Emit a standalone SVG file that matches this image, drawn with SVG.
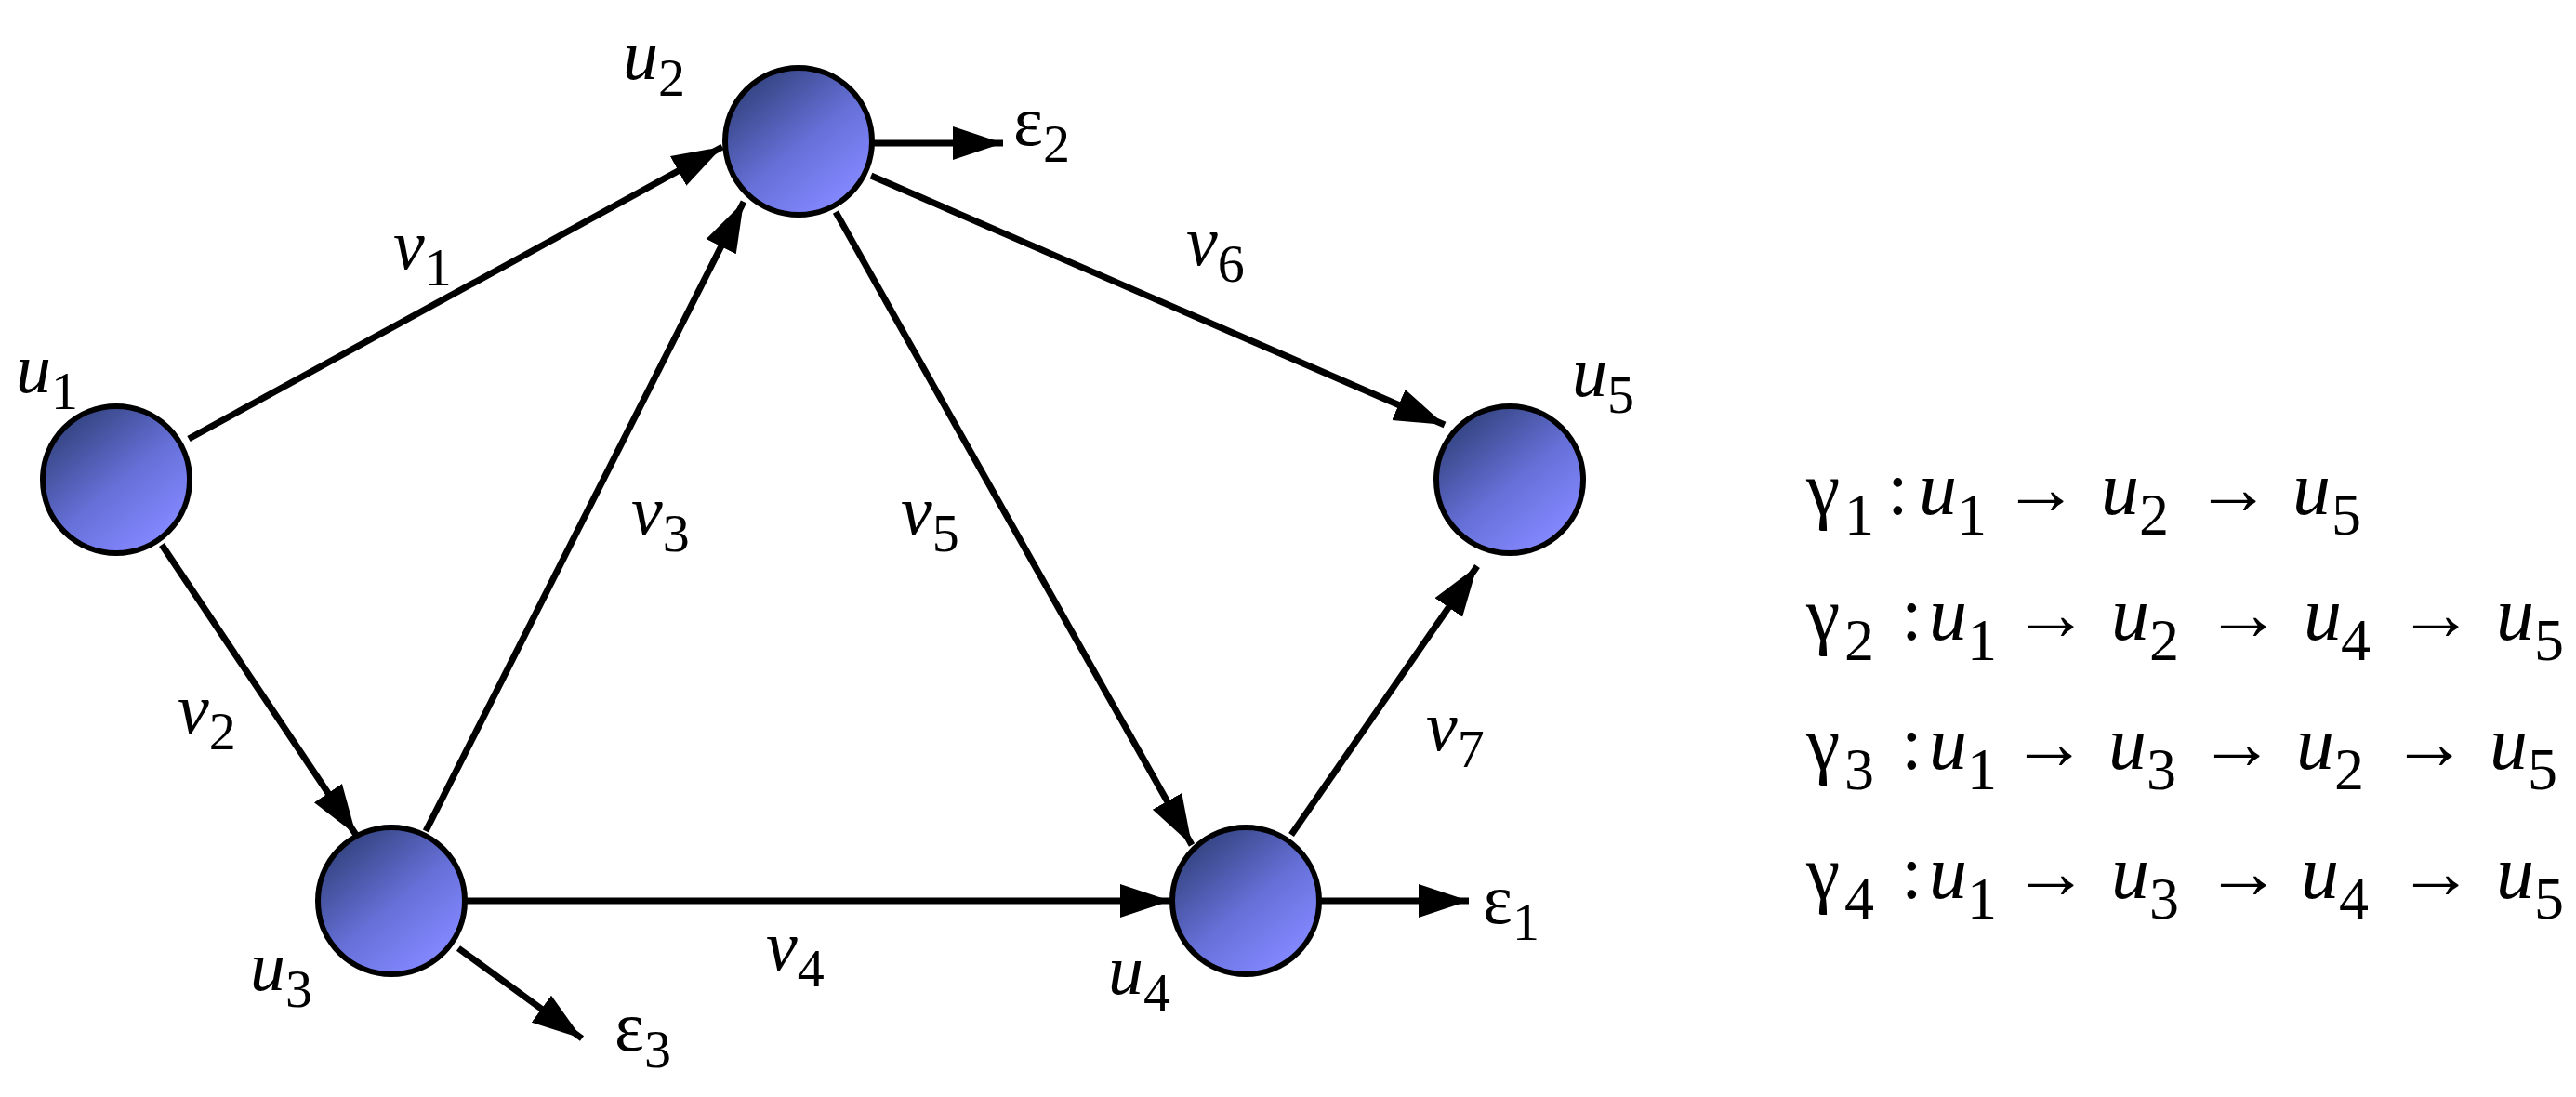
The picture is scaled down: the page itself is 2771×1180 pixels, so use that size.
<svg xmlns="http://www.w3.org/2000/svg" width="2771" height="1180" viewBox="0 0 2771 1180" font-family="'Times New Roman', 'Liberation Serif', serif">
<style>
.n{stroke:#000;stroke-width:6;fill:url(#g)}
.e{stroke:#000;stroke-width:7;fill:none;marker-end:url(#a)}
text{font-family:'Liberation Serif','Times New Roman',serif;font-size:76px;fill:#000}
.i{font-style:italic}
.s{font-size:58px;font-style:normal}
.r{font-size:82px}
.rs{font-size:64px}
</style>
<defs>
<linearGradient id="g" x1="0.15" y1="0.1" x2="0.8" y2="0.9">
<stop offset="0" stop-color="#33437f"/><stop offset="0.55" stop-color="#6670d8"/><stop offset="1" stop-color="#8488ff"/>
</linearGradient>
<marker id="a" markerUnits="userSpaceOnUse" markerWidth="56" markerHeight="44" viewBox="0 0 56 44" refX="54" refY="22" orient="auto">
<path d="M0,4 L54,22 L0,40 Z" fill="#000"/>
</marker>
</defs>
<g id="edges">
<line class="e" x1="203" y1="472" x2="777" y2="158"/>
<line class="e" x1="174" y1="586" x2="383" y2="898"/>
<line class="e" x1="458" y1="894" x2="800" y2="217"/>
<line class="e" x1="899" y1="228" x2="1282" y2="909"/>
<line class="e" x1="937" y1="189" x2="1554" y2="457"/>
<line class="e" x1="501" y1="969" x2="1259" y2="969"/>
<line class="e" x1="1389" y1="898" x2="1589" y2="609"/>
<line class="e" x1="935" y1="154" x2="1079" y2="154"/>
<line class="e" x1="1419" y1="969" x2="1580" y2="969"/>
<line class="e" x1="493" y1="1020" x2="626" y2="1117"/>
</g>
<g id="u1"><circle class="n" cx="125" cy="516" r="79"/><text x="17" y="422" class="i">u<tspan class="s" dy="18">1</tspan></text></g>
<g id="u2"><circle class="n" cx="859" cy="152" r="79"/><text x="670" y="85" class="i">u<tspan class="s" dy="18">2</tspan></text></g>
<g id="u3"><circle class="n" cx="421" cy="969" r="79"/><text x="269" y="1065" class="i">u<tspan class="s" dy="18">3</tspan></text></g>
<g id="u4"><circle class="n" cx="1340" cy="969" r="79"/><text x="1192" y="1069" class="i">u<tspan class="s" dy="18">4</tspan></text></g>
<g id="u5"><circle class="n" cx="1624" cy="516" r="79"/><text x="1691" y="426" class="i">u<tspan class="s" dy="18">5</tspan></text></g>
<g id="labels">
<text x="423" y="289" class="i">v<tspan class="s" dy="18">1</tspan></text>
<text x="191" y="788" class="i">v<tspan class="s" dy="18">2</tspan></text>
<text x="679" y="575" class="i">v<tspan class="s" dy="18">3</tspan></text>
<text x="824" y="1043" class="i">v<tspan class="s" dy="18">4</tspan></text>
<text x="969" y="575" class="i">v<tspan class="s" dy="18">5</tspan></text>
<text x="1276" y="285" class="i">v<tspan class="s" dy="18">6</tspan></text>
<text x="1534" y="807" class="i">v<tspan class="s" dy="18">7</tspan></text>
<text x="1090" y="156">ε<tspan class="s" dy="18">2</tspan></text>
<text x="1595" y="993">ε<tspan class="s" dy="18">1</tspan></text>
<text x="661" y="1130">ε<tspan class="s" dy="18">3</tspan></text>
</g>
<g id="paths">
<text class="r" y="553"><tspan x="1943">γ</tspan><tspan class="rs" x="1984" dy="22">1</tspan><tspan x="2030" dy="-22">:</tspan><tspan x="2064" font-style="italic">u</tspan><tspan class="rs" x="2105" dy="22">1</tspan><tspan x="2154" dy="-22">→</tspan><tspan x="2260" font-style="italic">u</tspan><tspan class="rs" x="2301" dy="22">2</tspan><tspan x="2361" dy="-22">→</tspan><tspan x="2466" font-style="italic">u</tspan><tspan class="rs" x="2508" dy="22">5</tspan></text>
<text class="r" y="688"><tspan x="1943">γ</tspan><tspan class="rs" x="1984" dy="22">2</tspan><tspan x="2045" dy="-22">:</tspan><tspan x="2075" font-style="italic">u</tspan><tspan class="rs" x="2116" dy="22">1</tspan><tspan x="2165" dy="-22">→</tspan><tspan x="2271" font-style="italic">u</tspan><tspan class="rs" x="2312" dy="22">2</tspan><tspan x="2372" dy="-22">→</tspan><tspan x="2478" font-style="italic">u</tspan><tspan class="rs" x="2518" dy="22">4</tspan><tspan x="2579" dy="-22">→</tspan><tspan x="2685" font-style="italic">u</tspan><tspan class="rs" x="2726" dy="22">5</tspan></text>
<text class="r" y="827"><tspan x="1943">γ</tspan><tspan class="rs" x="1984" dy="22">3</tspan><tspan x="2045" dy="-22">:</tspan><tspan x="2075" font-style="italic">u</tspan><tspan class="rs" x="2116" dy="22">1</tspan><tspan x="2163" dy="-22">→</tspan><tspan x="2268" font-style="italic">u</tspan><tspan class="rs" x="2309" dy="22">3</tspan><tspan x="2365" dy="-22">→</tspan><tspan x="2470" font-style="italic">u</tspan><tspan class="rs" x="2511" dy="22">2</tspan><tspan x="2572" dy="-22">→</tspan><tspan x="2678" font-style="italic">u</tspan><tspan class="rs" x="2719" dy="22">5</tspan></text>
<text class="r" y="966"><tspan x="1943">γ</tspan><tspan class="rs" x="1984" dy="22">4</tspan><tspan x="2045" dy="-22">:</tspan><tspan x="2075" font-style="italic">u</tspan><tspan class="rs" x="2116" dy="22">1</tspan><tspan x="2165" dy="-22">→</tspan><tspan x="2271" font-style="italic">u</tspan><tspan class="rs" x="2312" dy="22">3</tspan><tspan x="2372" dy="-22">→</tspan><tspan x="2475" font-style="italic">u</tspan><tspan class="rs" x="2516" dy="22">4</tspan><tspan x="2579" dy="-22">→</tspan><tspan x="2685" font-style="italic">u</tspan><tspan class="rs" x="2726" dy="22">5</tspan></text>
</g>
</svg>
